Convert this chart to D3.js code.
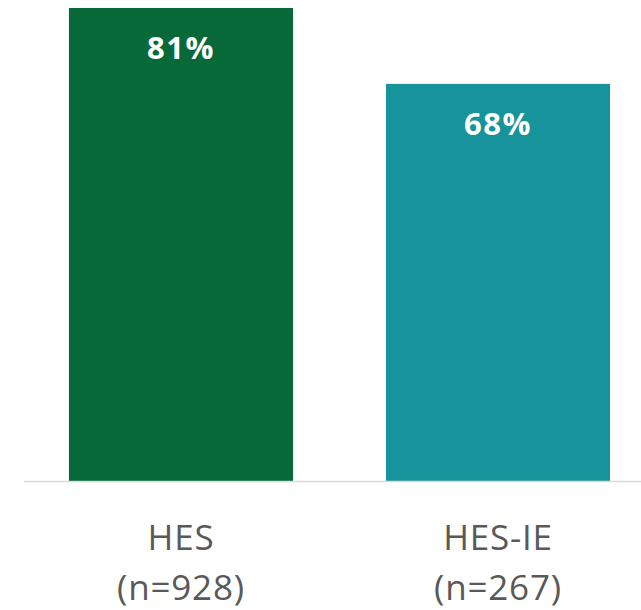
<!DOCTYPE html>
<html><head><meta charset="utf-8">
<script src="https://cdn.jsdelivr.net/npm/d3@7"></script>
<style>html,body{margin:0;padding:0;background:#fff;}svg{display:block;}</style>
</head><body>
<script>
const categories = ["HES", "HES-IE"];
const sampleLabels = ["(n=928)", "(n=267)"];
const values = [81, 68];
const colors = ["#076937", "#17939b"];

const W = 641, H = 610;
const svg = d3.select("body").append("svg").attr("width", W).attr("height", H);

const x = d3.scaleBand().domain(categories).range([22.5, 656.5]).paddingInner(0.293).paddingOuter(0.1465);
const y = d3.scaleLinear().domain([0, 100]).range([481, -103]);

svg.selectAll("rect.bar").data(values).join("rect")
  .attr("class", "bar")
  .attr("x", (d, i) => x(categories[i]))
  .attr("y", d => y(d))
  .attr("width", x.bandwidth())
  .attr("height", d => y(0) - y(d))
  .attr("fill", (d, i) => colors[i]);

svg.append("line").attr("x1", 24).attr("x2", W).attr("y1", y(0) + 0.5).attr("y2", y(0) + 0.5)
  .attr("stroke", "#d9d9d9").attr("stroke-width", 1.5);

svg.selectAll("text.val").data(values).join("text")
  .attr("class", "val")
  .attr("x", (d, i) => x(categories[i]) + x.bandwidth() / 2)
  .attr("y", d => y(d) + 51)
  .attr("text-anchor", "middle")
  .attr("font-family", "'Open Sans', sans-serif")
  .attr("font-weight", "bold")
  .attr("font-size", 31)
  .attr("letter-spacing", 1.5)
  .attr("fill", "#fff")
  .text(d => d + "%");

const lab = svg.selectAll("text.cat").data(categories).join("text")
  .attr("class", "cat")
  .attr("text-anchor", "middle")
  .attr("font-family", "'Open Sans', sans-serif")
  .attr("font-size", 35)
  .attr("letter-spacing", 0.8)
  .attr("fill", "#595959");
lab.append("tspan").attr("x", d => x(d) + x.bandwidth() / 2).attr("y", 550).text(d => d);
lab.append("tspan").attr("x", d => x(d) + x.bandwidth() / 2).attr("y", 600).text((d, i) => sampleLabels[i]);
</script>
</body></html>
